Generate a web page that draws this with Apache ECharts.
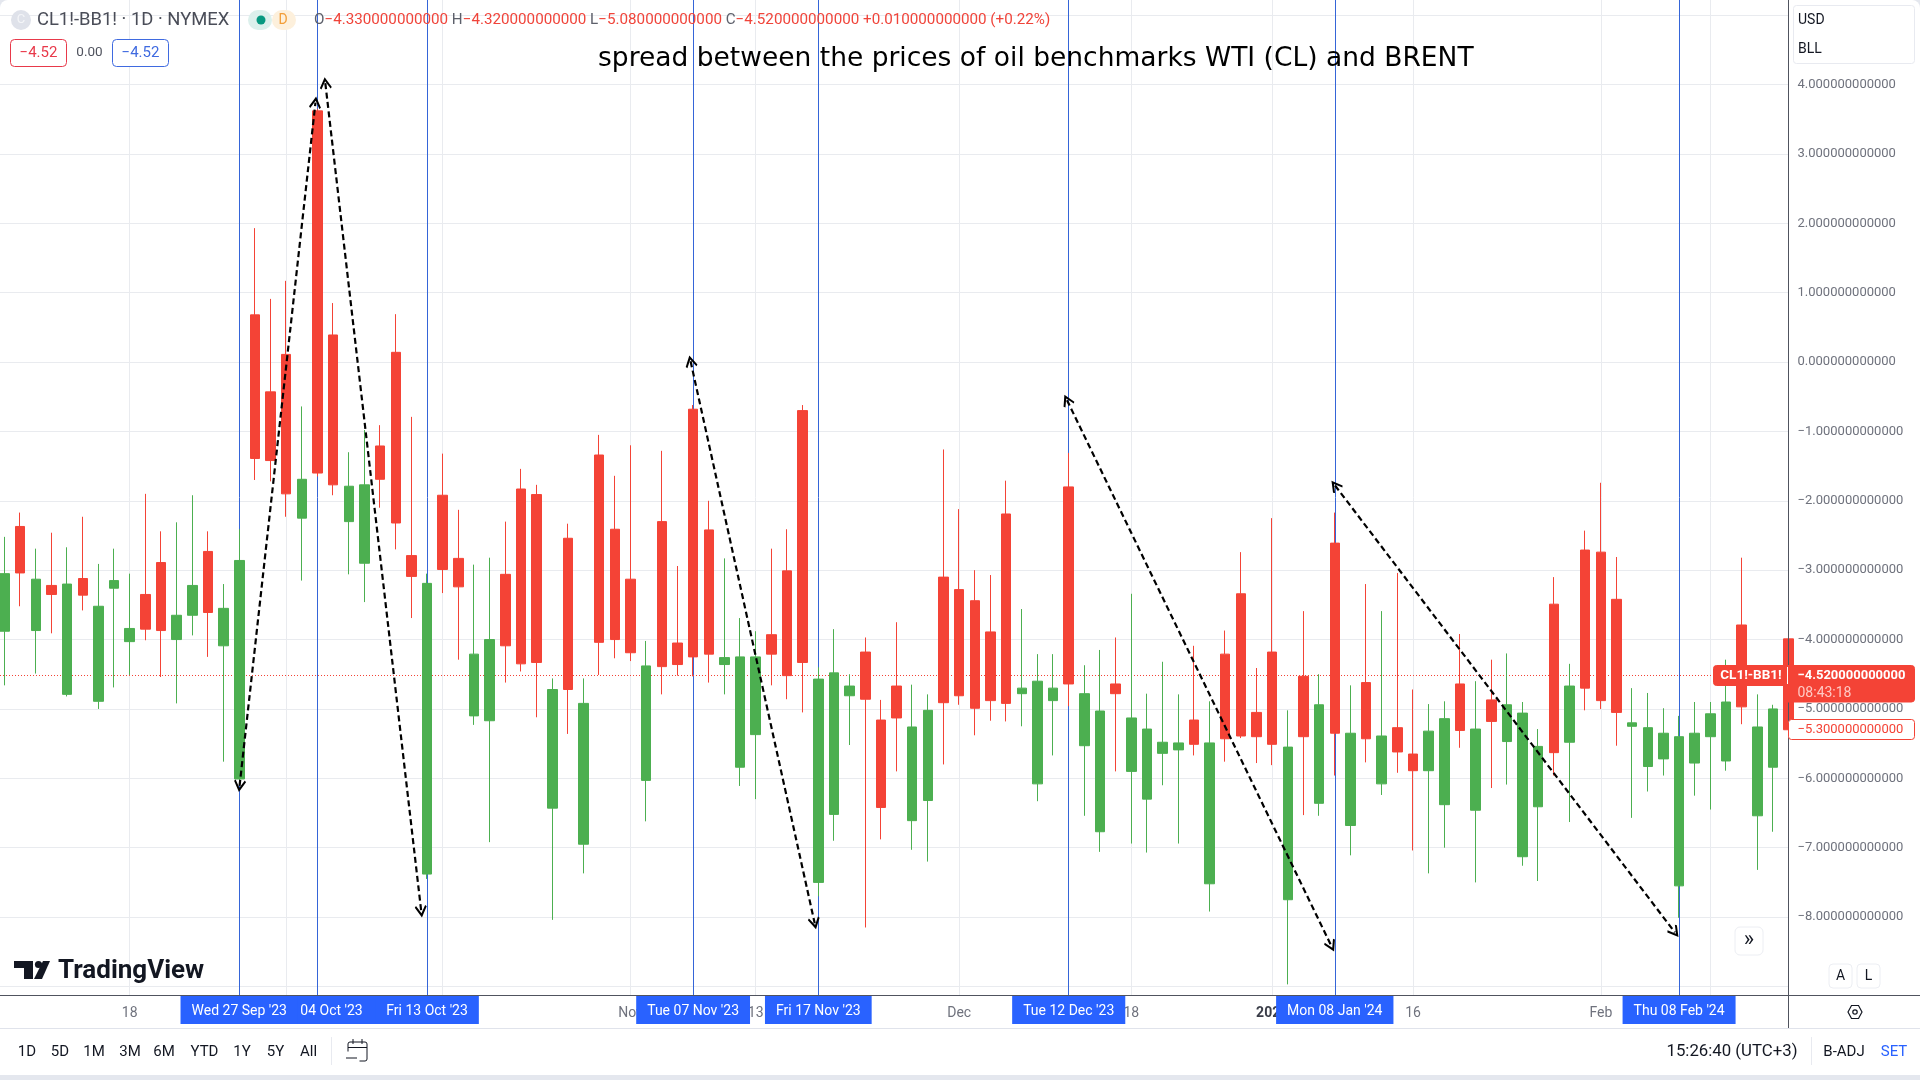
<!DOCTYPE html>
<html>
<head>
<meta charset="utf-8">
<title>CL1!-BB1! spread</title>
<script src="https://cdn.jsdelivr.net/npm/echarts@6/dist/echarts.min.js"></script>
<style>
    html, body { margin: 0; padding: 0; background: #e4e7ee; }
    #chart { width: 1920px; height: 1080px; }
</style>
</head>
<body>
<div id="chart"></div>
<script>
// candles (red: open above close, green: close above open)
const opens = [
    -3.88, -2.37, -3.87, -3.22, -4.79, -3.12, -4.89, -3.26, -4.03, -3.35,
    -2.89, -4.00, -3.65, -2.73, -4.09, -6.01, 0.68, -0.43, 0.11, -2.25,
    3.62, 0.39, -2.30, -2.90, -1.21, 0.14, -2.79, -7.38, -1.92, -2.83,
    -5.10, -5.17, -3.06, -1.83, -1.91, -6.43, -2.54, -6.95, -1.34, -2.41,
    -3.13, -6.03, -2.30, -4.05, -0.68, -2.42, -4.36, -5.84, -5.37, -3.93,
    -3.01, -0.70, -7.50, -6.52, -4.81, -4.18, -5.16, -4.67, -6.61, -6.32,
    -3.10, -3.28, -3.44, -3.89, -2.19, -4.78, -6.08, -4.88, -1.80, -5.53,
    -6.77, -4.64, -5.90, -6.30, -5.64, -5.59, -5.16, -7.52, -4.21, -3.34,
    -5.05, -4.18, -7.75, -4.53, -6.36, -2.61, -6.68, -4.62, -6.08, -5.27,
    -5.65, -5.89, -6.38, -4.64, -6.46, -4.87, -5.47, -7.13, -6.41, -3.49,
    -5.48, -2.71, -2.74, -3.42, -5.25, -5.83, -5.72, -7.55, -5.78, -5.40,
    -5.75, -3.79, -6.54, -5.84, -3.99,
];
const closes = [
    -3.05, -3.04, -3.13, -3.35, -3.20, -3.36, -3.52, -3.15, -3.84, -3.85,
    -3.87, -3.65, -3.22, -3.61, -3.55, -2.86, -1.39, -1.42, -1.90, -1.69,
    -1.60, -1.77, -1.79, -1.77, -1.69, -2.32, -3.09, -3.19, -2.99, -3.24,
    -4.21, -4.00, -4.09, -4.35, -4.33, -4.72, -4.72, -4.92, -4.04, -4.00,
    -4.19, -4.38, -4.39, -4.36, -4.25, -4.21, -4.26, -4.25, -4.25, -4.21,
    -4.52, -4.33, -4.57, -4.48, -4.67, -4.86, -6.42, -5.13, -5.26, -5.02,
    -4.91, -4.81, -4.99, -4.88, -4.92, -4.70, -4.60, -4.70, -4.64, -4.78,
    -5.03, -4.78, -5.13, -5.29, -5.48, -5.49, -5.51, -5.49, -5.43, -5.39,
    -5.40, -5.51, -5.55, -5.40, -4.94, -5.35, -5.35, -5.43, -5.39, -5.62,
    -5.89, -5.32, -5.14, -5.31, -5.29, -5.18, -4.94, -5.06, -5.54, -5.63,
    -4.67, -4.70, -4.88, -5.05, -5.20, -5.27, -5.35, -5.40, -5.35, -5.07,
    -4.90, -4.97, -5.26, -5.00, -5.30,
];
const highs = [
    -2.52, -2.17, -2.69, -2.46, -2.67, -2.23, -2.91, -2.69, -3.05, -1.90,
    -2.44, -2.31, -1.92, -2.44, -3.20, -2.41, 1.93, 0.91, 1.17, -0.64,
    3.65, 0.85, -1.30, -0.98, -0.91, 0.69, -0.79, -3.05, -1.32, -2.13,
    -2.92, -2.82, -2.30, -1.54, -1.77, -4.56, -2.33, -4.56, -1.05, -1.64,
    -1.20, -4.02, -1.28, -2.94, -0.62, -2.00, -2.83, -3.69, -3.88, -2.69,
    -2.41, -0.62, -4.40, -3.85, -4.50, -3.97, -4.87, -3.75, -4.65, -4.79,
    -1.26, -2.12, -3.00, -3.07, -1.71, -3.56, -4.21, -4.21, -1.31, -4.37,
    -4.15, -3.97, -3.34, -4.78, -4.32, -4.79, -4.09, -4.89, -3.87, -2.74,
    -4.41, -2.25, -5.02, -3.59, -4.50, -2.17, -4.66, -3.20, -3.59, -3.04,
    -4.72, -4.93, -4.89, -3.92, -4.60, -4.29, -4.20, -4.90, -5.29, -3.10,
    -4.35, -2.43, -1.74, -2.81, -4.70, -4.77, -4.99, -5.10, -4.90, -4.90,
    -4.29, -2.82, -4.79, -4.94, -3.99,
];
const lows = [
    -4.66, -3.52, -4.49, -3.91, -4.82, -3.58, -5.00, -4.69, -4.51, -4.01,
    -4.54, -4.92, -3.94, -4.25, -5.76, -6.05, -1.70, -1.72, -2.23, -3.15,
    -1.65, -1.92, -3.06, -3.46, -2.10, -2.70, -3.69, -7.45, -3.33, -4.29,
    -5.23, -6.92, -4.62, -4.46, -5.12, -8.04, -5.36, -7.37, -4.51, -4.27,
    -4.31, -6.62, -4.79, -4.52, -4.53, -4.62, -4.79, -6.11, -6.30, -4.66,
    -4.86, -5.05, -7.70, -6.90, -5.52, -8.15, -6.88, -5.90, -7.03, -7.20,
    -5.80, -4.94, -5.38, -5.17, -5.18, -5.25, -6.33, -5.67, -4.96, -6.54,
    -7.06, -5.90, -6.94, -7.07, -6.10, -6.94, -5.67, -7.92, -5.76, -5.42,
    -5.78, -5.81, -8.97, -6.53, -6.54, -5.96, -7.11, -5.77, -6.24, -5.92,
    -7.04, -7.37, -7.00, -5.56, -7.50, -6.14, -6.09, -7.26, -7.48, -5.96,
    -6.63, -5.02, -5.00, -5.53, -6.57, -6.19, -5.96, -8.01, -6.25, -6.45,
    -5.89, -5.22, -7.32, -6.77, -5.30,
];

// time axis ticks, by candle number
const tickBars = [8, 18, 28, 40, 48, 61, 72, 81, 90, 102, 109];
const tickLabels = ["18", "Oct", "16", "Nov", "13", "Dec", "18", "2024", "16", "Feb", "13"];

// price axis
const priceGrid = [5, 4, 3, 2, 1, 0, -1, -2, -3, -4, -5, -6, -7, -8, -9];
const priceTicks = [4, 3, 2, 1, 0, -1, -2, -3, -4, -5, -6, -7, -8];

// marked dates
const markedBars = [20, 15, 27, 44, 52, 68, 85, 107];
const markedLabels = ["04 Oct '23", "Wed 27 Sep '23", "Fri 13 Oct '23", "Tue 07 Nov '23", "Fri 17 Nov '23", "Tue 12 Dec '23", "Mon 08 Jan '24", "Thu 08 Feb '24"];

// hand drawn arrows: [bar, price] to [bar, price]
const arrowStarts = [[15.02, -6.11], [20.5, 4.02], [43.84, 0.01], [67.89, -0.55], [85.02, -1.78]];
const arrowEnds = [[19.87, 3.74], [26.63, -7.92], [51.77, -8.09], [84.79, -8.42], [106.73, -8.22]];

const lastPrice = -4.52;

const RED = "#f44336";
const GREEN = "#4caf50";
const BLUE = "#2962ff";
const GRID = "#e9ebef";
const AXIS_TEXT = "#6f727d";
const DARK = "#131722";
const FONT = "Roboto";
const chevron = "path://M0,0 L6,7 L4.6,8 L0,2.8 L-4.6,8 L-6,7 Z";

const minus = v => (v < 0 ? "\u2212" + Math.abs(v).toFixed(12) : v.toFixed(12));

const text = (x, y, str, fill, size, extra = {}) => ({
    type: "text",
    z: 20,
    style: Object.assign({ x, y, text: str, fill, font: `${size}px ${FONT}`, align: "left", verticalAlign: "middle" }, extra),
});
const box = (x, y, width, height, fill, stroke, r = 3, extra = {}) => ({
    type: "rect",
    z: 19,
    shape: { x, y, width, height, r },
    style: { fill, stroke, lineWidth: 1 },
    ...extra,
});
const line = (x1, y1, x2, y2, stroke, z = 18) => ({
    type: "line",
    z,
    shape: { x1, y1, x2, y2 },
    style: { stroke, lineWidth: 1 },
});

const rangeButtons = [["1D", 27], ["5D", 60], ["1M", 94], ["3M", 130], ["6M", 164], ["YTD", 204.5], ["1Y", 242], ["5Y", 275.5], ["All", 308.5]];

const chrome = [
    { type: "rect", z: -10, shape: { x: 0, y: 0, width: 1920, height: 1075, r: [8, 8, 0, 0] }, style: { fill: "#fff" } },
    // axis frame
    line(1788.5, 0, 1788.5, 1028, "#50535e"),
    line(0, 995.5, 1920, 995.5, "#50535e"),
    line(0, 1028.5, 1920, 1028.5, "#e0e3eb"),
    // symbol header
    { type: "circle", z: 19, shape: { cx: 21, cy: 20, r: 10 }, style: { fill: "#dfe2ea" } },
    text(21, 20, "C", "#f4f5f8", 13, { align: "center" }),
    text(37, 20, "CL1!-BB1! · 1D · NYMEX", "#4a4d58", 18.4),
    box(248, 10, 24, 20, "#dcf0ec", null, 10),
    box(272, 10, 24, 20, "#fdf0dc", null, 10),
    { type: "circle", z: 20, shape: { cx: 261, cy: 20, r: 4.5 }, style: { fill: "#089981" } },
    text(283, 20, "D", "#f29d38", 14, { align: "center" }),
    text(314, 20.5, "{k|O}{v|\u22124.330000000000} {k|H}{v|\u22124.320000000000} {k|L}{v|\u22125.080000000000} {k|C}{v|\u22124.520000000000} {v|+0.010000000000 (+0.22%)}", "#f23645", 15.2, {
        rich: {
            k: { fill: "#5d606b", font: `15.2px ${FONT}` },
            v: { fill: "#f0443a", font: `15.2px ${FONT}` },
        },
    }),
    box(10.5, 39.5, 56, 27, "#fff", "#e8394a", 4),
    text(38.5, 53.5, "\u22124.52", "#e8394a", 15, { align: "center" }),
    text(89.5, 52.5, "0.00", "#50535e", 13.5, { align: "center" }),
    box(112.5, 39.5, 56, 27, "#fff", "#3f6ae0", 4),
    text(140.5, 53.5, "\u22124.52", "#3f6ae0", 15, { align: "center" }),
    // unit box
    box(1793.5, 5.5, 121, 58, "#fff", "#e8eaf0", 3),
    text(1798, 20.5, "USD", DARK, 14),
    text(1798, 49.5, "BLL", DARK, 14),
    // logo
    { type: "polygon", z: 19, shape: { points: [[14, 961], [33, 961], [33, 979], [24, 979], [24, 968], [14, 968]] }, style: { fill: DARK } },
    { type: "circle", z: 19, shape: { cx: 38.5, cy: 964.5, r: 3.6 }, style: { fill: DARK } },
    { type: "polygon", z: 19, shape: { points: [[43, 961], [50, 961], [42, 979], [34, 979]] }, style: { fill: DARK } },
    text(58, 971.5, "TradingView", DARK, 26, { font: `bold 26px ${FONT}` }),
    // last price tags
    box(1713.5, 665.5, 76, 20, RED, RED, 3),
    text(1751, 676, "CL1!-BB1!", "#fff", 13, { align: "center", font: `bold 13.5px ${FONT}` }),
    box(1784, 665.5, 130.5, 36.5, RED, RED, 3),
    line(1787.5, 667, 1787.5, 684, "#fff", 21),
    text(1797.5, 676, minus(lastPrice), "#fff", 13, { font: `bold 13px ${FONT}` }),
    text(1797.5, 693, "08:43:18", "#ffc9c4", 14),
    box(1788.5, 719.5, 126, 20, "#fff", RED, 3),
    text(1797.5, 730, minus(-5.3), RED, 13),
    // small buttons
    box(1735, 927, 28, 28, "#fff", "#eceef3", 5),
    text(1749, 940.5, "\u00bb", DARK, 22, { align: "center" }),
    box(1829, 964, 23, 24, "#fff", "#eceef3", 4),
    text(1840.5, 976, "A", DARK, 14, { align: "center" }),
    box(1857, 964, 23, 24, "#fff", "#eceef3", 4),
    text(1868.5, 976, "L", DARK, 14, { align: "center" }),
    { type: "polygon", z: 19, shape: { points: [[1848, 1012], [1851.5, 1005.5], [1858.5, 1005.5], [1862, 1012], [1858.5, 1018.5], [1851.5, 1018.5]] }, style: { fill: "none", stroke: DARK, lineWidth: 1.2 } },
    { type: "circle", z: 19, shape: { cx: 1855, cy: 1012, r: 2.2 }, style: { fill: "none", stroke: DARK, lineWidth: 1.2 } },
    // bottom toolbar
    ...rangeButtons.map(([label, x]) => text(x, 1052, label, DARK, 15, { align: "center" })),
    line(331.5, 1037, 331.5, 1065, "#e8eaf0"),
    box(348, 1042, 19, 19, "none", DARK, 2),
    line(348, 1047.5, 367, 1047.5, DARK, 20),
    line(353, 1039, 353, 1044, DARK, 20),
    line(362, 1039, 362, 1044, DARK, 20),
    box(345, 1052, 14, 12, "#fff", "#fff", 0, { z: 20 }),
    line(346, 1058, 357, 1058, DARK, 21),
    text(1797.5, 1052, "15:26:40 (UTC+3)", DARK, 16.8, { align: "right" }),
    line(1811.5, 1037, 1811.5, 1065, "#e8eaf0"),
    text(1844, 1052, "B-ADJ", DARK, 15, { align: "center" }),
    text(1894, 1052, "SET", "#2962ff", 15, { align: "center" }),
];

const candleData = opens.map((open, i) => [i, open, closes[i], lows[i], highs[i]]);

// things behind the candles: marked date lines with their tags, last price line
const backLines = markedBars.map((bar, i) => ({
    xAxis: bar,
    lineStyle: { color: "#3565d8", width: 1, type: "solid" },
    label: {
        show: true,
        formatter: markedLabels[i],
        position: "start",
        distance: 0,
        color: "#fff",
        backgroundColor: BLUE,
        padding: [9, bar === 20 ? 20 : 11, 6, bar === 20 ? 20 : 11],
        fontFamily: FONT,
        fontSize: 14,
        lineHeight: 14,
        offset: bar === 20 ? [14, 0] : [0, 0],
    },
}));
backLines.push({
    yAxis: lastPrice,
    lineStyle: { color: RED, width: 1, type: [1, 2] },
    label: { show: false },
});

const arrowLines = arrowStarts.map((start, i) => [
    { coord: start },
    { coord: arrowEnds[i] },
]);

const option = {
    animation: false,
    backgroundColor: "transparent",
    title: {
        text: "spread between the prices of oil benchmarks WTI (CL) and BRENT",
        left: 598,
        top: 46,
        padding: 0,
        textStyle: { color: "#000", fontFamily: "DejaVu Sans", fontSize: 26.5, fontWeight: "normal" },
    },
    grid: { left: 0, top: 0, width: 1788, height: 995, containLabel: false },
    xAxis: {
        type: "value",
        min: -0.2875,
        max: 113.96,
        axisLine: { show: false },
        axisTick: { show: false, customValues: tickBars },
        axisLabel: {
            customValues: tickBars,
            margin: 11,
            color: AXIS_TEXT,
            fontFamily: FONT,
            fontSize: 14,
            formatter: value => {
                const label = tickLabels[tickBars.indexOf(value)];
                return label === "2024" ? `{b|${label}}` : label;
            },
            rich: { b: { color: "#3a3d48", fontFamily: FONT, fontSize: 14, fontWeight: "bold" } },
        },
        splitLine: { show: true, lineStyle: { color: GRID, width: 1 } },
    },
    yAxis: {
        type: "value",
        position: "right",
        min: -9.123,
        max: 5.218,
        axisLine: { show: false },
        axisTick: { show: false, customValues: priceGrid },
        axisLabel: {
            customValues: priceTicks,
            margin: 9.5,
            color: AXIS_TEXT,
            fontFamily: FONT,
            fontSize: 13,
            padding: [2, 0, 0, 0],
            formatter: minus,
        },
        splitLine: { show: true, lineStyle: { color: GRID, width: 1 } },
    },
    series: [
        {
            type: "line",
            z: 1,
            data: [],
            silent: true,
            markLine: {
                z: 1,
                silent: true,
                symbol: "none",
                animation: false,
                data: backLines,
            },
        },
        {
            type: "candlestick",
            z: 2,
            silent: true,
            barWidth: 10,
            encode: { x: 0, y: [1, 2, 3, 4] },
            data: candleData,
            itemStyle: {
                color: GREEN,
                color0: RED,
                borderColor: GREEN,
                borderColor0: RED,
                borderWidth: 1,
            },
            markLine: {
                z: 6,
                silent: true,
                animation: false,
                symbol: [chevron, chevron],
                symbolSize: 12,
                label: { show: false },
                lineStyle: { color: "#000", width: 2.2, type: [6, 3.5] },
                itemStyle: { color: "#000" },
                data: arrowLines,
            },
        },
    ],
    graphic: chrome,
};

const myChart = echarts.init(document.getElementById("chart"));
myChart.setOption(option);
</script>
</body>
</html>
